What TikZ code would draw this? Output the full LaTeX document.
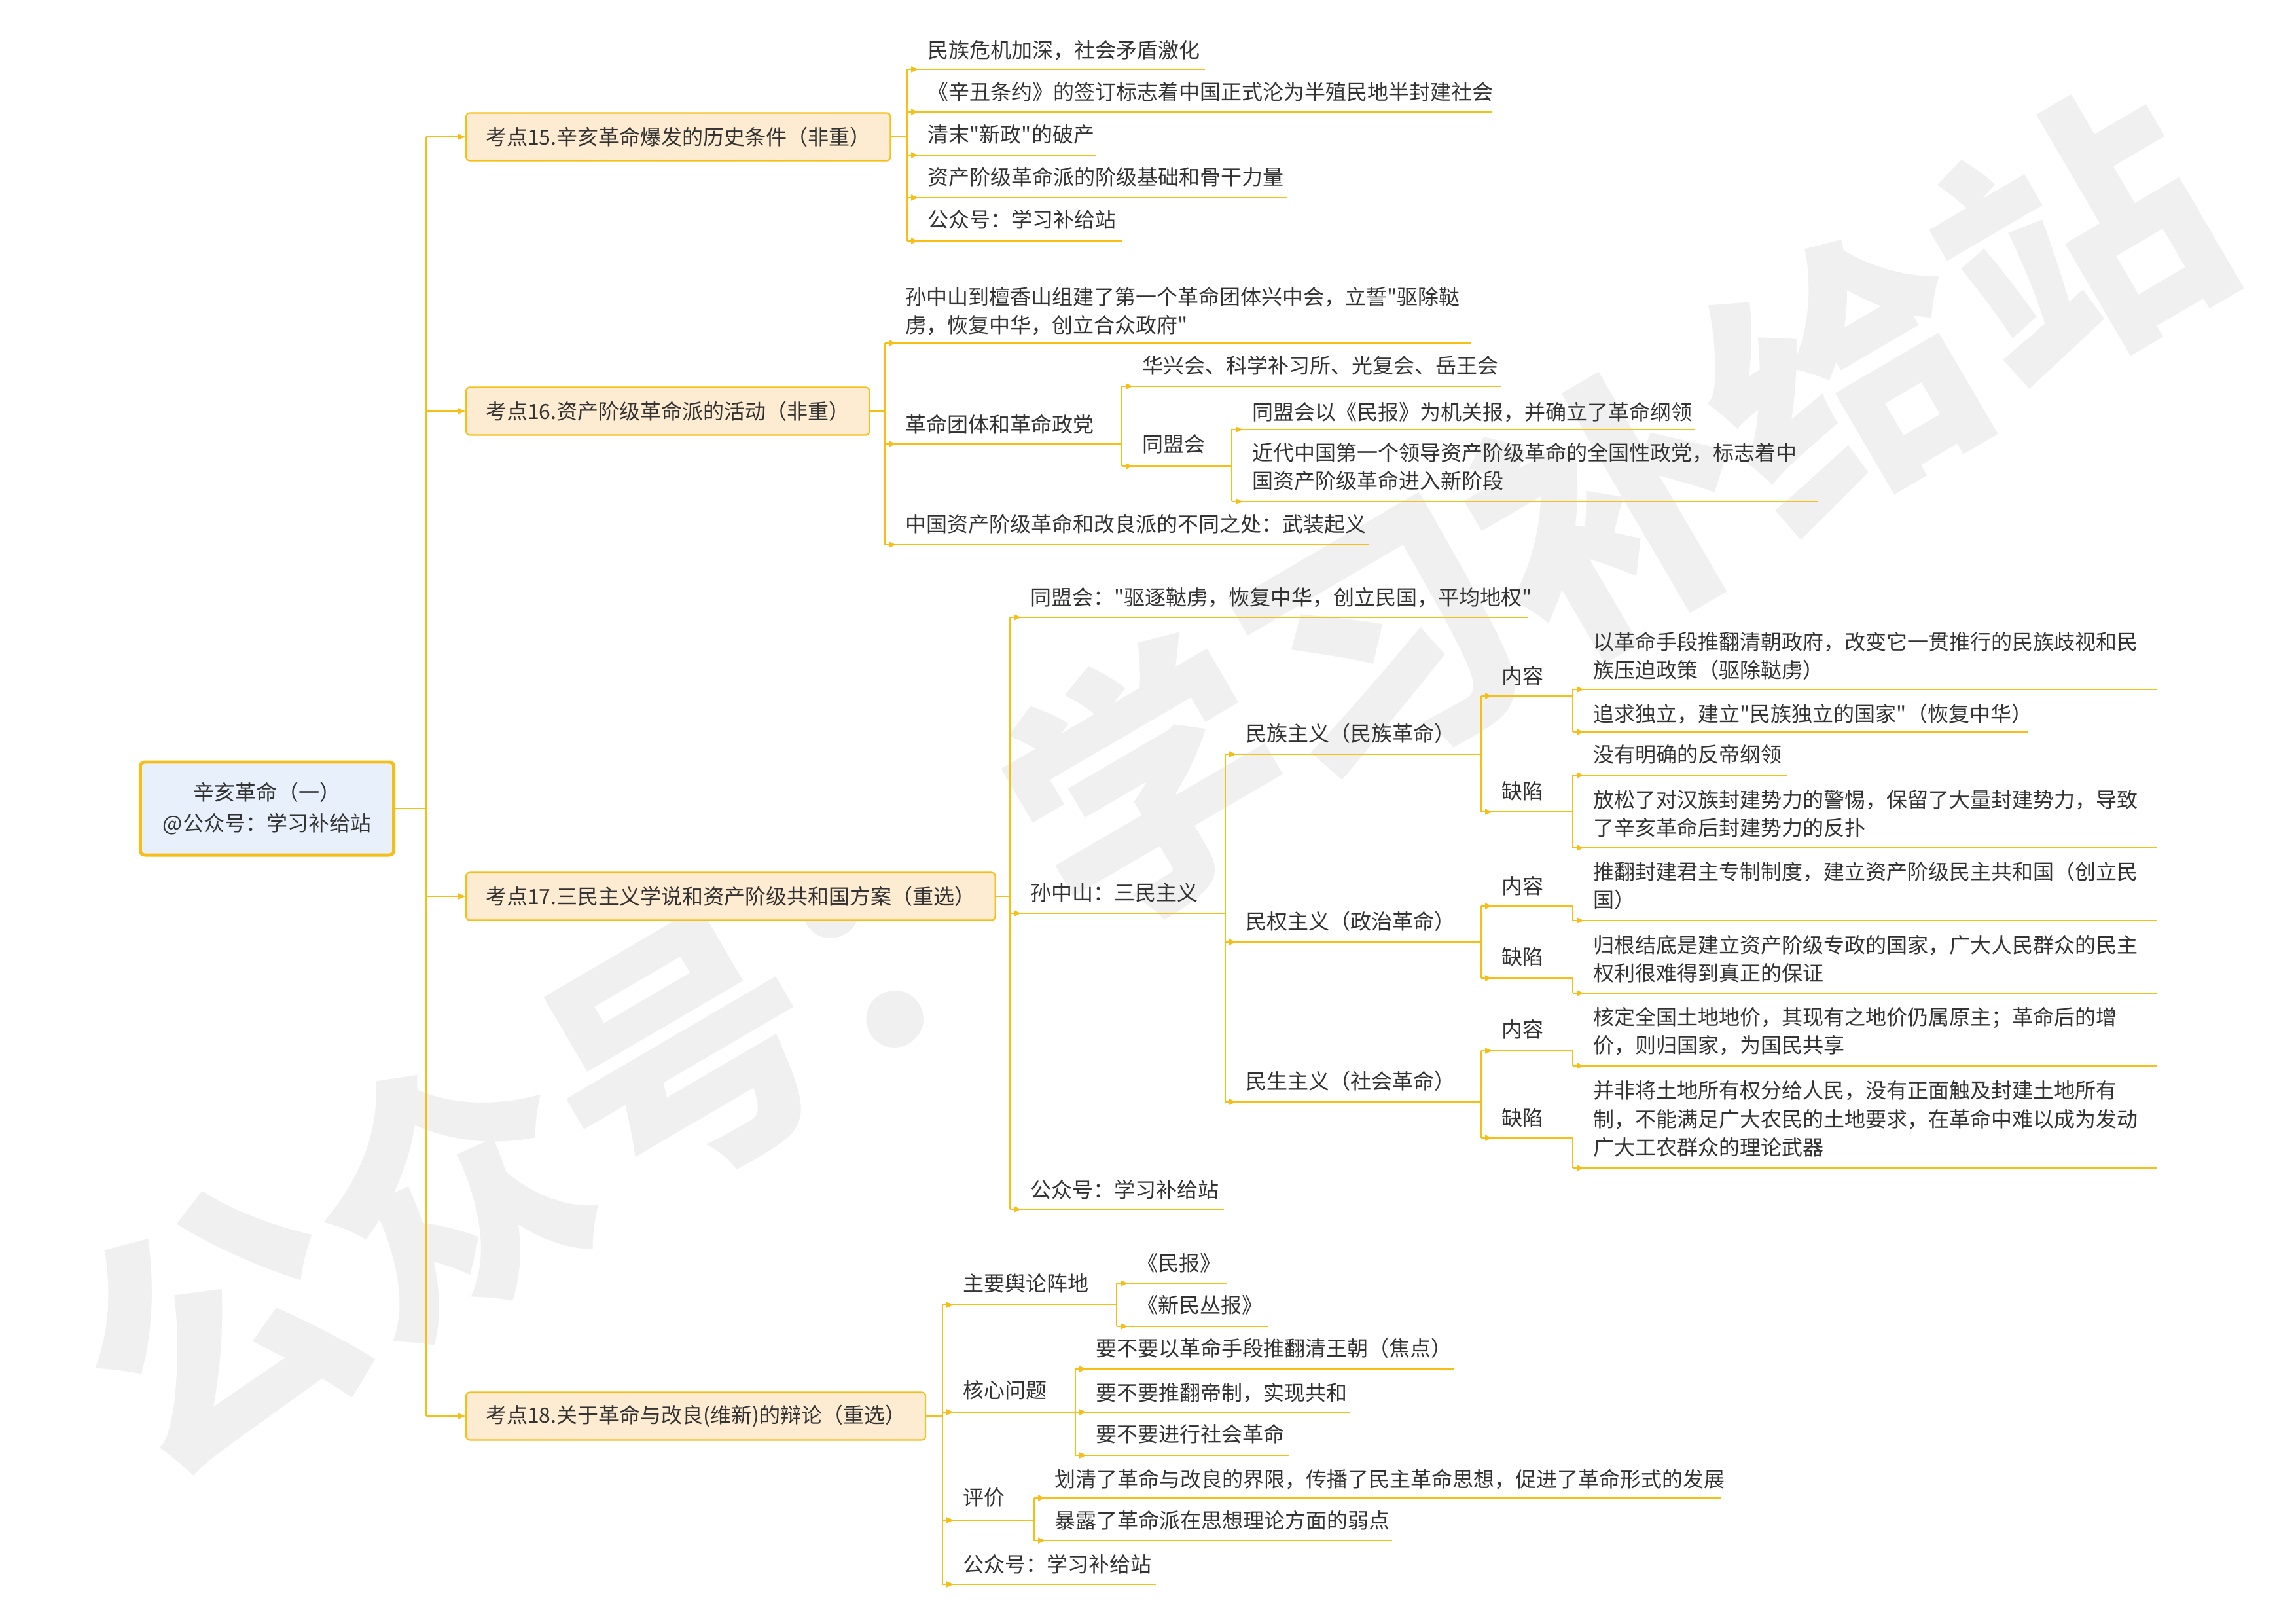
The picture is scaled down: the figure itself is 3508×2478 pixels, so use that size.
\documentclass[tikz,border=0pt]{standalone}
\usepackage{fontspec}
\setmainfont{Noto Sans CJK SC}
\newfontfamily\cjkf{Noto Sans CJK SC}
\usetikzlibrary{arrows.meta}
\definecolor{gold}{HTML}{F7BE16}
\definecolor{peach}{HTML}{FDEBD2}
\definecolor{rootfill}{HTML}{E8F0FB}
\definecolor{txtc}{HTML}{333333}
\definecolor{wmc}{HTML}{F0F0F0}
\tikzset{
  ln/.style={draw=gold, line width=0.5pt},
  ul/.style={draw=gold, line width=0.6pt},
  tip/.style={-{Triangle[length=3.1pt,width=2.5pt]}},
  txt/.style={inner sep=0pt, anchor=west, align=left, text=txtc},
  kbox/.style={draw=gold, fill=peach, line width=0.6pt, rounded corners=0.06cm,
    inner xsep=0.3cm, inner ysep=0pt, minimum height=0.73cm, anchor=west, text=txtc},
  rootbox/.style={draw=gold, fill=rootfill, line width=1.4pt, rounded corners=0.07cm,
    minimum width=3.87cm, minimum height=1.42cm, align=center, text=txtc,
    font=\cjkf\fontsize{9.1pt}{13.4pt}\selectfont},
}
% name, bar x, underline y, end x, text centre y, text
\newcommand\leaf[6]{%
  \coordinate (#1-s) at (#2,#3);
  \coordinate (#1-e) at (#4,#3);
  \node[txt] (#1) at (#2+31,#5) {#6};
  \draw[ul] (#1-s) -- (#1-e);
  \draw[ul,tip] (#1-s) -- ++(17,0);
}
\newcommand\link[2]{\draw[ln] (#1-e) -- (#2-s);}
\begin{document}
\begin{tikzpicture}[x=0.01cm,y=-0.01cm,font=\cjkf\fontsize{9.1pt}{12.3pt}\selectfont]
\useasboundingbox (0,0) rectangle (3508,2478);
\fill[white] (0,0) rectangle (3508,2478);
% watermark
\node[rotate=30.3, text=wmc, inner sep=0pt, font=\cjkf\fontsize{117pt}{117pt}\selectfont\bfseries] (wm) at (1752,1195) {公众号：学习补给站};

% root
\node[rootbox] (root) at (408,1235) {辛亥革命（一）\\@公众号：学习补给站};
\coordinate (tr) at (651,1235);
\coordinate (tr15) at (651,209);
\coordinate (tr16) at (651,628);
\coordinate (tr17) at (651,1369);
\coordinate (tr18) at (651,2163);

% level 1 boxes
\node[kbox] (k15) at (711,209) {考点15.辛亥革命爆发的历史条件（非重）};
\node[kbox] (k16) at (711,628) {考点16.资产阶级革命派的活动（非重）};
\node[kbox] (k17) at (711,1369) {考点17.三民主义学说和资产阶级共和国方案（重选）};
\node[kbox] (k18) at (711,2163) {考点18.关于革命与改良(维新)的辩论（重选）};
\coordinate (k15-e) at (1386,209);
\coordinate (k16-e) at (1352,628);
\coordinate (k17-e) at (1543,1369);
\coordinate (k18-e) at (1440,2163);

\draw[ln] (root.east) -- (tr);
\draw[ln] (tr15) -- (tr18);
\foreach \k in {15,16,17,18}{
  \draw[ln,tip] (tr\k) -- (k\k.west);
  \draw[ln] (k\k.east) -- (k\k-e);
}

% ---- 考点15
\leaf{a1}{1386}{106}{1841}{77}{民族危机加深，社会矛盾激化}
\leaf{a2}{1386}{171}{2280}{140}{《辛丑条约》的签订标志着中国正式沦为半殖民地半封建社会}
\leaf{a3}{1386}{237}{1675}{205}{清末"新政"的破产}
\leaf{a4}{1386}{302}{1966}{270}{资产阶级革命派的阶级基础和骨干力量}
\leaf{a5}{1386}{368}{1715}{335}{公众号：学习补给站}
\foreach \c in {a1,a2,a3,a4,a5}{\link{k15}{\c}}

% ---- 考点16
\leaf{b1}{1352}{524}{2247}{475}{孙中山到檀香山组建了第一个革命团体兴中会，立誓"驱除鞑\\虏，恢复中华，创立合众政府"}
\leaf{b2}{1352}{678}{1714}{648}{革命团体和革命政党}
\leaf{b21}{1714}{590}{2294}{558}{华兴会、科学补习所、光复会、岳王会}
\leaf{b22}{1714}{712}{1882}{678}{同盟会}
\leaf{b221}{1882}{656}{2590}{630}{同盟会以《民报》为机关报，并确立了革命纲领}
\leaf{b222}{1882}{766}{2778}{713}{近代中国第一个领导资产阶级革命的全国性政党，标志着中\\国资产阶级革命进入新阶段}
\leaf{b3}{1352}{832}{2091}{800}{中国资产阶级革命和改良派的不同之处：武装起义}
\foreach \c in {b1,b2,b3}{\link{k16}{\c}}
\link{b2}{b21}\link{b2}{b22}
\link{b22}{b221}\link{b22}{b222}

% ---- 考点17
\leaf{c1}{1543}{943}{2335}{913}{同盟会："驱逐鞑虏，恢复中华，创立民国，平均地权"}
\leaf{c2}{1543}{1395}{1872}{1363}{孙中山：三民主义}
\leaf{c3}{1543}{1847}{1870}{1817}{公众号：学习补给站}
\foreach \c in {c1,c2,c3}{\link{k17}{\c}}

\leaf{c21}{1872}{1152}{2263}{1120}{民族主义（民族革命）}
\leaf{c22}{1872}{1439}{2263}{1407}{民权主义（政治革命）}
\leaf{c23}{1872}{1683}{2263}{1651}{民生主义（社会革命）}
\link{c2}{c21}\link{c2}{c22}\link{c2}{c23}

\leaf{c211}{2263}{1063}{2403}{1032}{内容}
\leaf{c212}{2263}{1240}{2403}{1208}{缺陷}
\link{c21}{c211}\link{c21}{c212}
\leaf{c2111}{2403}{1053}{3296}{1002}{以革命手段推翻清朝政府，改变它一贯推行的民族歧视和民\\族压迫政策（驱除鞑虏）}
\leaf{c2112}{2403}{1118}{3098}{1090}{追求独立，建立"民族独立的国家"（恢复中华）}
\link{c211}{c2111}\link{c211}{c2112}
\leaf{c2121}{2403}{1184}{2731}{1152}{没有明确的反帝纲领}
\leaf{c2122}{2403}{1295}{3296}{1243}{放松了对汉族封建势力的警惕，保留了大量封建势力，导致\\了辛亥革命后封建势力的反扑}
\link{c212}{c2121}\link{c212}{c2122}

\leaf{c221}{2263}{1384}{2403}{1353}{内容}
\leaf{c222}{2263}{1494}{2403}{1461}{缺陷}
\link{c22}{c221}\link{c22}{c222}
\leaf{c2211}{2403}{1406}{3296}{1353}{推翻封建君主专制制度，建立资产阶级民主共和国（创立民\\国）}
\link{c221}{c2211}
\leaf{c2221}{2403}{1517}{3296}{1465}{归根结底是建立资产阶级专政的国家，广大人民群众的民主\\权利很难得到真正的保证}
\link{c222}{c2221}

\leaf{c231}{2263}{1605}{2403}{1572}{内容}
\leaf{c232}{2263}{1738}{2403}{1707}{缺陷}
\link{c23}{c231}\link{c23}{c232}
\leaf{c2311}{2403}{1628}{3296}{1575}{核定全国土地地价，其现有之地价仍属原主；革命后的增\\价，则归国家，为国民共享}
\link{c231}{c2311}
\leaf{c2321}{2403}{1784}{3296}{1709}{并非将土地所有权分给人民，没有正面触及封建土地所有\\制，不能满足广大农民的土地要求，在革命中难以成为发动\\广大工农群众的理论武器}
\link{c232}{c2321}

% ---- 考点18
\leaf{d1}{1440}{1993}{1706}{1960}{主要舆论阵地}
\leaf{d2}{1440}{2157}{1643}{2123}{核心问题}
\leaf{d3}{1440}{2322}{1580}{2287}{评价}
\leaf{d4}{1440}{2420}{1766}{2389}{公众号：学习补给站}
\foreach \c in {d1,d2,d3,d4}{\link{k18}{\c}}
\leaf{d11}{1706}{1960}{1875}{1929}{《民报》}
\leaf{d12}{1706}{2026}{1938}{1993}{《新民丛报》}
\link{d1}{d11}\link{d1}{d12}
\leaf{d21}{1643}{2091}{2221}{2059}{要不要以革命手段推翻清王朝（焦点）}
\leaf{d22}{1643}{2157}{2063}{2128}{要不要推翻帝制，实现共和}
\leaf{d23}{1643}{2223}{1969}{2190}{要不要进行社会革命}
\link{d2}{d21}\link{d2}{d22}\link{d2}{d23}
\leaf{d31}{1580}{2288}{2629}{2260}{划清了革命与改良的界限，传播了民主革命思想，促进了革命形式的发展}
\leaf{d32}{1580}{2353}{2127}{2322}{暴露了革命派在思想理论方面的弱点}
\link{d3}{d31}\link{d3}{d32}
\end{tikzpicture}
\end{document}
